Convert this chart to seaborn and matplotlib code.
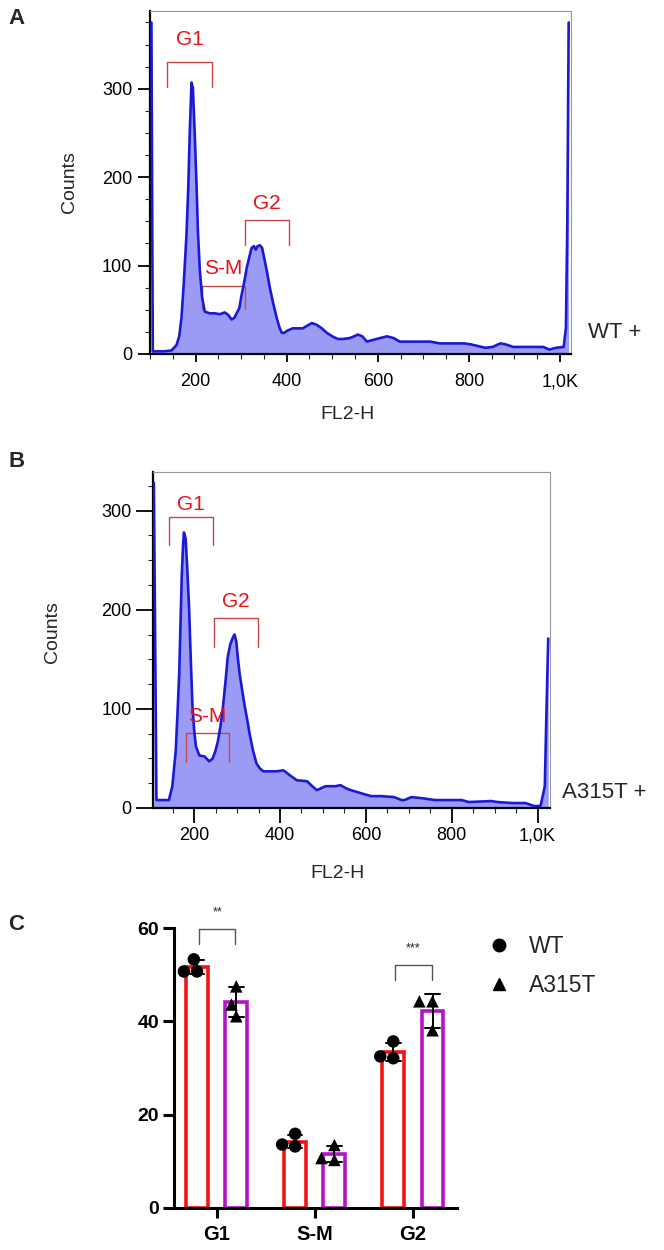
import matplotlib
matplotlib.use("Agg")
import matplotlib.pyplot as plt
from matplotlib.lines import Line2D
from matplotlib.ticker import MultipleLocator
import seaborn as sns
import numpy as np
import pandas as pd

HIST_LINE = "#1a1ad6"
HIST_FILL = "#9b9bf5"
GATE_LINE = "#c84848"
GATE_TEXT = "#e4141c"
WT_RED = "#f01414"
MUT_MAG = "#b414c8"

# panel A: WT + histogram (FL2-H channel vs counts)
wt_fl2 = [103, 106, 112, 130, 147, 158, 164, 169, 174, 180, 184, 187, 191, 194, 198, 202,
          205, 209, 214, 220, 231, 242, 253, 264, 272, 279, 285, 290, 296, 301, 307, 312,
          318, 323, 328, 332, 336, 341, 346, 352, 357, 363, 370, 378, 384, 389, 395, 400,
          413, 435, 445, 455, 466, 477, 488, 500, 512, 525, 538, 548, 556, 566, 576, 590,
          605, 620, 635, 648, 670, 699, 715, 736, 760, 790, 803, 820, 836, 852, 869, 880,
          897, 920, 945, 963, 977, 991, 1008, 1013, 1016, 1019]
wt_counts = [375, 3, 3, 3, 4, 10, 20, 41, 80, 135, 190, 248, 307, 301, 250, 192,
             140, 97, 65, 48, 46, 46, 45, 47, 44, 39, 41, 46, 52, 67, 82, 97,
             110, 120, 122, 118, 122, 123, 120, 105, 92, 75, 58, 41, 30, 24, 24, 26,
             29, 29, 32, 35, 33, 29, 24, 20, 17, 17, 18, 20, 22, 20, 14, 16,
             18, 20, 18, 14, 14, 14, 14, 12, 12, 12, 11, 9, 7, 8, 12, 11,
             8, 8, 8, 8, 5, 7, 8, 30, 150, 375]

# panel B: A315T + histogram
mut_fl2 = [106, 112, 125, 141, 149, 157, 161, 165, 168, 171, 174, 176, 180, 184, 188, 192,
           196, 200, 204, 212, 224, 235, 243, 249, 255, 261, 267, 273, 278, 284, 290, 294,
           298, 302, 306, 312, 318, 324, 329, 337, 345, 353, 361, 376, 392, 408, 423, 439,
           463, 475, 486, 496, 506, 529, 541, 553, 565, 588, 612, 635, 666, 683, 690, 706,
           729, 761, 784, 823, 840, 892, 907, 942, 972, 992, 1007, 1017, 1021, 1025]
mut_counts = [328, 8, 8, 8, 22, 58, 95, 135, 185, 235, 265, 278, 272, 240, 202, 150,
              102, 78, 62, 53, 52, 47, 50, 57, 67, 82, 102, 128, 152, 165, 172, 175,
              168, 150, 135, 118, 102, 88, 75, 58, 45, 40, 37, 37, 37, 38, 33, 28,
              27, 22, 18, 20, 22, 22, 23, 20, 18, 15, 12, 12, 11, 8, 8, 11,
              10, 8, 8, 8, 6, 7, 6, 5, 5, 2, 2, 22, 100, 171]

# gates: name, x range, bracket height, leg bottom, label height
gate_names = ["G1", "S-M", "G2"]
wt_gate_x = [(138, 237), (213, 308), (308, 404)]
wt_gate_top = [330, 77, 152]
wt_gate_leg = [302, 51, 123]
wt_gate_label_y = [356, 97, 170]
mut_gate_x = [(141, 243), (180, 282), (245, 349)]
mut_gate_top = [294, 76, 192]
mut_gate_leg = [265, 46, 162]
mut_gate_label_y = [306, 92, 208]

# panel C: % of cells per phase, three replicates each
phases = ["G1", "S-M", "G2"]
genotypes = ["WT", "A315T"]
wt_pct = {"G1": [50.7, 53.3, 50.7], "S-M": [13.2, 15.9, 13.6], "G2": [32.1, 35.7, 32.5]}
mut_pct = {"G1": [47.5, 43.6, 41.1], "S-M": [10.3, 13.5, 10.7], "G2": [44.3, 44.3, 38.1]}
sig_phase = ["G1", "G2"]
sig_text = ["**", "***"]
sig_top = [59.8, 52.0]

rows = []
for ph in phases:
    for v in wt_pct[ph]:
        rows.append({"phase": ph, "geno": "WT", "pct": v})
    for v in mut_pct[ph]:
        rows.append({"phase": ph, "geno": "A315T", "pct": v})
df = pd.DataFrame(rows)

sns.set_style("ticks")
plt.rcParams["font.family"] = ["Liberation Sans", "DejaVu Sans"]

fig = plt.figure(figsize=(6.64, 12.5), dpi=100)
axA = fig.add_axes([0.2253, 0.7168, 0.6339, 0.2744])
axB = fig.add_axes([0.2298, 0.3536, 0.5991, 0.2688])
axC = fig.add_axes([0.2627, 0.0336, 0.4256, 0.2426])


def draw_hist(ax, xs, ys, xlim, ylim, gx, gtop, gleg, gly):
    ax.fill_between(xs, ys, 0, color=HIST_FILL, lw=0)
    sns.lineplot(x=xs, y=ys, color=HIST_LINE, lw=1.9, ax=ax, estimator=None, zorder=3)
    for name, (x0, x1), top, leg, ly in zip(gate_names, gx, gtop, gleg, gly):
        ax.plot([x0, x0, x1, x1], [leg, top, top, leg], color=GATE_LINE, lw=1.0)
        ax.text((x0 + x1) / 2, ly, name, color=GATE_TEXT, fontsize=15,
                ha="center", va="center")
    ax.set_xlim(*xlim)
    ax.set_ylim(*ylim)
    ax.set_xticks([200, 400, 600, 800, 1000], ["200", "400", "600", "800", "1,0K"])
    ax.set_yticks([0, 100, 200, 300])
    ax.xaxis.set_minor_locator(MultipleLocator(50))
    ax.yaxis.set_minor_locator(MultipleLocator(25))
    for s in ["left", "bottom"]:
        ax.spines[s].set_linewidth(1.6)
        ax.spines[s].set_color("black")
    for s in ["top", "right"]:
        ax.spines[s].set_linewidth(0.8)
        ax.spines[s].set_color("#9a9a9a")
    ax.tick_params(which="major", labelsize=13, width=1.3, colors="black")
    ax.tick_params(which="minor", length=3.5, width=0.8)
    ax.set_xlabel("FL2-H", fontsize=14)
    ax.set_ylabel("Counts", fontsize=14)


draw_hist(axA, wt_fl2, wt_counts, (99, 1023), (0, 388),
          wt_gate_x, wt_gate_top, wt_gate_leg, wt_gate_label_y)
axA.tick_params(axis="x", which="major", length=6, pad=8)
axA.tick_params(axis="y", which="major", length=9, pad=3.5)
axA.xaxis.set_label_coords(0.469, -0.152)
axA.yaxis.set_label_coords(-0.170, 0.5)

draw_hist(axB, mut_fl2, mut_counts, (103, 1030), (0, 339),
          mut_gate_x, mut_gate_top, mut_gate_leg, mut_gate_label_y)
axB.tick_params(axis="x", which="major", length=11, pad=3)
axB.tick_params(axis="y", which="major", length=12, pad=3)
axB.xaxis.set_label_coords(0.466, -0.170)
axB.yaxis.set_label_coords(-0.230, 0.524)

fig.text(588 / 664, 1 - 333 / 1250, "WT +", fontsize=16, va="center", ha="left")
fig.text(562 / 664, 1 - 792 / 1250, "A315T +", fontsize=16, va="center", ha="left")

# panel C bars
sns.barplot(data=df, x="phase", y="pct", hue="geno", order=phases, hue_order=genotypes,
            palette=[WT_RED, MUT_MAG], fill=False, linewidth=2.6, width=0.8, gap=0.44,
            errorbar="sd", capsize=0.3, err_kws={"color": "black", "linewidth": 1.4},
            legend=False, ax=axC)
for g, m in zip(genotypes, ["o", "^"]):
    sns.swarmplot(data=df[df["geno"] == g], x="phase", y="pct", hue="geno",
                  order=phases, hue_order=genotypes, dodge=True,
                  palette=["black", "black"], marker=m, size=9, linewidth=0,
                  legend=False, ax=axC, zorder=3)

for ph, txt, top in zip(sig_phase, sig_text, sig_top):
    i = phases.index(ph)
    x0, x1 = i - 0.18, i + 0.19
    axC.plot([x0, x0, x1, x1], [top - 3.2, top, top, top - 3.2], color="#555555", lw=1.0,
             clip_on=False)
    axC.text((x0 + x1) / 2, top + 2.3, txt, fontsize=9, ha="center", va="bottom",
             color="#222222")

axC.set_xlim(-0.43, 2.45)
axC.set_ylim(0, 65)
axC.set_yticks([0, 20, 40, 60])
axC.set_xlabel("")
axC.set_ylabel("")
axC.spines["top"].set_visible(False)
axC.spines["right"].set_visible(False)
axC.spines["left"].set_bounds(0, 60)
for s in ["left", "bottom"]:
    axC.spines[s].set_linewidth(2.2)
    axC.spines[s].set_color("black")
axC.tick_params(axis="y", length=8, width=2.2, pad=3, labelsize=14, colors="black")
axC.tick_params(axis="x", length=7, width=2.2, pad=5, labelsize=14.5, colors="black")
for lab in axC.get_xticklabels() + axC.get_yticklabels():
    lab.set_fontweight("bold")

handles = [Line2D([], [], ls="", marker="o", color="black", markersize=9),
           Line2D([], [], ls="", marker="^", color="black", markersize=9)]
fig.legend(handles, genotypes, loc="upper left", bbox_to_anchor=(0.734, 0.252),
           frameon=False, fontsize=16.5, handlelength=1.0, handletextpad=0.8,
           labelspacing=0.7, borderpad=0, borderaxespad=0)

for letter, y in zip(["A", "B", "C"], [19, 462, 925]):
    fig.text(8 / 664, 1 - y / 1250, letter, fontsize=16, fontweight="bold",
             va="center", ha="left")

fig.savefig("out.png", dpi=100)
plt.close(fig)
